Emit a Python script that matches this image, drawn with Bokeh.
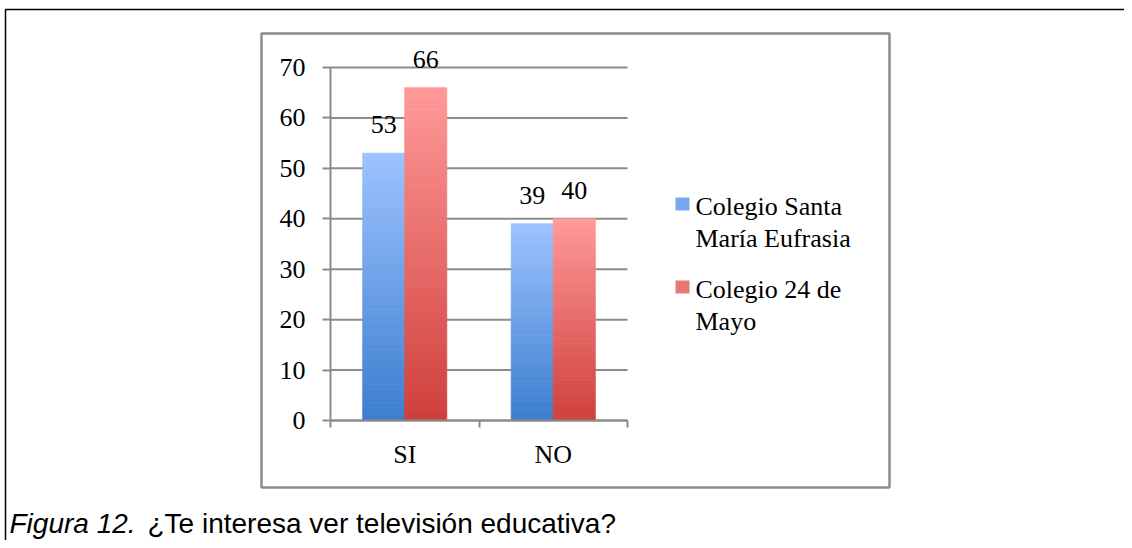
from bokeh.plotting import figure
from bokeh.models import (ColumnDataSource, Range1d, FixedTicker, SingleIntervalTicker,
                          LabelSet, LinearAxis)
from bokeh.core.properties import value
from bokeh.embed import file_html
from bokeh.resources import INLINE

# ---------------- data ----------------
categories = ["SI", "NO"]
santa_maria = [53, 39]
colegio_24 = [66, 40]
series_names = ["Colegio Santa\nMaría Eufrasia", "Colegio 24 de\nMayo"]
y_max = 70
y_step = 10
y_ticks = [0, 10, 20, 30, 40, 50, 60, 70]
caption_italic = "Figura 12."
caption_text = "¿Te interesa ver televisión educativa?"

# ---------------- style / layout ----------------
W, H = 1124, 540
SERIF = "Liberation Serif"
SANS = "Liberation Sans"
GRAY = "#8c8c8c"
BAR_W = 0.283
OFFS = [-0.1415, 0.1415]
BLUE = ((157, 195, 255), (60, 125, 207))   # top, bottom
RED = ((255, 153, 153), (207, 63, 60))

# data frame placement in pixels
X0, CAT_PX = 330, 148.5        # left of category axis, px per category
Y0, PX_PER = 420, 353 / 70     # pixel row of value 0, px per value unit

p = figure(width=W, height=H, output_backend="svg", toolbar_location=None,
           x_range=Range1d(0, W), y_range=Range1d(H, 0),
           x_axis_location=None, y_axis_location=None, min_border=0)
p.outline_line_color = None
p.background_fill_color = "white"
p.border_fill_color = "white"
p.xgrid.visible = False
p.ygrid.visible = False
p.extra_x_ranges = {"cx": Range1d(-X0 / CAT_PX, (W - X0) / CAT_PX)}
p.extra_y_ranges = {"vy": Range1d(-(H - Y0) / PX_PER, Y0 / PX_PER)}

# outer frame and chart box
p.line(x=[5, 5, W], y=[H, 9, 9], line_color="#000000", line_width=1.5)
p.quad(left=[261], right=[889], top=[33], bottom=[487], fill_color=None,
       line_color=GRAY, line_width=2.5)

# gridlines
p.segment(x0=[0] * len(y_ticks), x1=[len(categories)] * len(y_ticks), y0=y_ticks, y1=y_ticks,
          x_range_name="cx", y_range_name="vy", line_color=GRAY, line_width=2)


def strips(values, offset, colors, n=60):
    top_rgb, bot_rgb = colors
    d = dict(x=[], bottom=[], top=[], color=[])
    for i, v in enumerate(values):
        for k in range(n):
            t = (k + 0.5) / n
            c = tuple(int(round(b + (tp - b) * t)) for b, tp in zip(bot_rgb, top_rgb))
            d["x"].append(i + 0.5 + offset)
            d["bottom"].append(v * k / n)
            d["top"].append(v * (k + 1) / n)
            d["color"].append("#%02x%02x%02x" % c)
    return ColumnDataSource(d)


for vals, off, cols in [(santa_maria, OFFS[0], BLUE), (colegio_24, OFFS[1], RED)]:
    p.vbar(x="x", bottom="bottom", top="top", width=BAR_W, fill_color="color",
           line_color="color", line_width=0.8, source=strips(vals, off, cols),
           x_range_name="cx", y_range_name="vy")

# value labels
lab_src = ColumnDataSource(dict(
    x=[i + 0.5 + OFFS[0] for i in range(len(categories))] +
      [i + 0.5 + OFFS[1] for i in range(len(categories))],
    y=santa_maria + colegio_24,
    text=[str(v) for v in santa_maria + colegio_24]))
p.add_layout(LabelSet(x="x", y="y", text="text", source=lab_src, y_offset=20,
                      x_range_name="cx", y_range_name="vy",
                      text_align="center", text_baseline="alphabetic",
                      text_font=value(SERIF), text_font_size=value("26px"),
                      text_color=value("#000000")))

# axes (fixed inside the frame)
yax = LinearAxis(x_range_name="cx", y_range_name="vy", fixed_location=0,
                 bounds=(0, y_max), ticker=SingleIntervalTicker(interval=y_step))
xax = LinearAxis(x_range_name="cx", y_range_name="vy", fixed_location=0,
                 bounds=(0, len(categories)),
                 ticker=FixedTicker(ticks=[i + 0.5 for i in range(len(categories))],
                                    minor_ticks=list(range(len(categories) + 1))),
                 major_label_overrides={i + 0.5: c for i, c in enumerate(categories)})
for ax in (xax, yax):
    ax.axis_line_color = GRAY
    ax.axis_line_width = 2
    ax.major_label_text_font = SERIF
    ax.major_label_text_font_size = "26px"
    ax.major_label_text_color = "#000000"
yax.major_tick_line_color = GRAY
yax.major_tick_line_width = 2
yax.major_tick_out = 8
yax.major_tick_in = 0
yax.minor_tick_line_color = None
yax.major_label_standoff = 17
xax.major_tick_line_color = None
xax.major_tick_out = 0
xax.major_tick_in = 0
xax.minor_tick_line_color = GRAY
xax.minor_tick_line_width = 2
xax.minor_tick_out = 7
xax.minor_tick_in = 0
xax.major_label_standoff = 12
p.add_layout(yax, "left")
p.add_layout(xax, "below")

# legend
legend_cols = ["#78a8ee", "#ea7676"]
legend_tops = [197, 280]
legend_baselines = [[206, 238], [289, 321]]
for name, col, top, bases in zip(series_names, legend_cols, legend_tops, legend_baselines):
    p.quad(left=[675], right=[689], top=[top], bottom=[top + 13], fill_color=col,
           line_color=None)
    lines = name.split("\n")
    p.text(x=[695] * len(lines), y=bases, text=lines, text_font=value(SERIF),
           text_font_size=value("26px"), text_baseline="alphabetic", text_color="#000000")

# caption
p.text(x=[9], y=[523], text=[caption_italic], text_font=value(SANS),
       text_font_size=value("28px"), text_font_style="italic",
       text_baseline="alphabetic", text_color="#000000")
p.text(x=[147], y=[523], text=[caption_text], text_font=value(SANS),
       text_font_size=value("28px"), text_baseline="alphabetic", text_color="#000000")

open("out.html", "w").write(file_html(p, INLINE))
